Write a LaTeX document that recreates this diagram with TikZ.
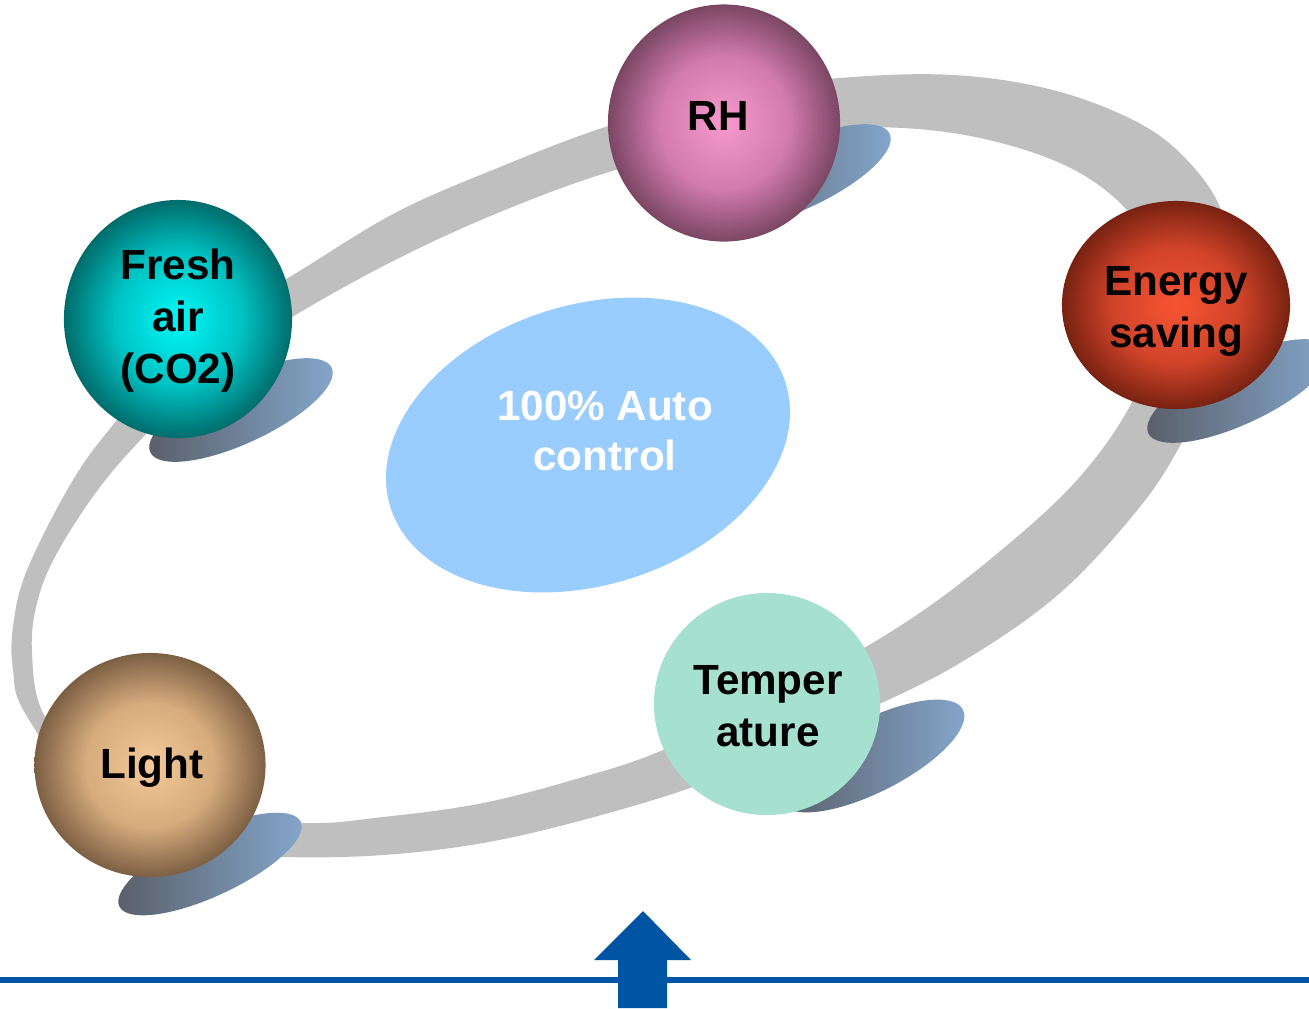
\documentclass[tikz,border=0pt]{standalone}
\usepackage{fontspec}
\setmainfont{Liberation Sans}
\usetikzlibrary{shapes.geometric}
\definecolor{bandgray}{HTML}{BFBFBF}
\definecolor{blobblue}{HTML}{99CCFF}
\definecolor{arrowblue}{HTML}{0054A4}
\definecolor{shdark}{HTML}{595D66}
\definecolor{shmid}{HTML}{7D9BBE}
\definecolor{shblue}{HTML}{85A8CE}
\definecolor{tempgreen}{HTML}{A6E0CE}
\definecolor{rhC}{HTML}{F799CB}\definecolor{rhM}{HTML}{D27BAE}\definecolor{rhE}{HTML}{7A4663}
\definecolor{frC}{HTML}{00F8F8}\definecolor{frM}{HTML}{00C2C2}\definecolor{frE}{HTML}{006C6C}
\definecolor{enC}{HTML}{F85432}\definecolor{enM}{HTML}{D0432A}\definecolor{enE}{HTML}{782211}
\definecolor{liC}{HTML}{F5CA98}\definecolor{liM}{HTML}{D6AB7D}\definecolor{liE}{HTML}{7C5F43}
\pgfdeclareradialshading{rhshade}{\pgfpoint{0bp}{0bp}}{color(0bp)=(rhC); color(14bp)=(rhM); color(25bp)=(rhE); color(50bp)=(rhE)}
\pgfdeclareradialshading{frshade}{\pgfpoint{0bp}{0bp}}{color(0bp)=(frC); color(14bp)=(frM); color(25bp)=(frE); color(50bp)=(frE)}
\pgfdeclareradialshading{enshade}{\pgfpoint{0bp}{0bp}}{color(0bp)=(enC); color(14bp)=(enM); color(25bp)=(enE); color(50bp)=(enE)}
\pgfdeclareradialshading{lishade}{\pgfpoint{0bp}{0bp}}{color(0bp)=(liC); color(14bp)=(liM); color(25bp)=(liE); color(50bp)=(liE)}
\tikzset{
  sphere/.style={ellipse, inner sep=0pt},
  spheretxt/.style={align=center, text=black, inner sep=0pt,
    font=\fontsize{12pt}{14.8pt}\selectfont\bfseries},
  shadowblob/.style={left color=shdark, middle color=shmid, right color=shblue},
  autotxt/.style={align=center, text=white, font=\fontsize{12pt}{14.3pt}\selectfont\bfseries}
}
\begin{document}
\begin{tikzpicture}[x=0.01cm, y=-0.01cm]
\useasboundingbox (0,0) rectangle (1309,1008);
\fill[white] (0,0) rectangle (1309,1008);
% ring band
\fill[bandgray, even odd rule]
  plot[smooth cycle, tension=0.6] coordinates {(117,420) (190,335) (288,278) (395,213) (500,167) (605,127) (720,94) (840,78) (953,75) (1053,90) (1137,122) (1187,160) (1222,212) (1234,285) (1220,365) (1187,433) (1143,503) (1060,593) (960,663) (860,713) (760,757) (693,787) (583,820) (483,843) (383,855) (283,857) (180,850) (90,800) (25,713) (13,670) (13,627) (27,570) (73,480)}
  plot[smooth cycle, tension=0.6] coordinates {(147,433) (100,487) (57,553) (37,603) (32,653) (43,713) (90,770) (170,810) (300,823) (383,817) (483,803) (583,777) (663,750) (780,694) (900,626) (993,557) (1077,480) (1133,400) (1158,320) (1150,250) (1117,200) (1053,160) (953,133) (840,128) (720,145) (609,172) (500,212) (395,260) (292,317) (210,370)};
% shadows
\shade[shadowblob, rotate around={25:(799,176)}] (799,176) ellipse [x radius=1.0cm, y radius=0.33cm];
\shade[shadowblob, rotate around={25:(241,410)}] (241,410) ellipse [x radius=1.0cm, y radius=0.33cm];
\shade[shadowblob, rotate around={25:(1239,391)}] (1239,391) ellipse [x radius=1.0cm, y radius=0.33cm];
\shade[shadowblob, rotate around={25:(210,864)}] (210,864) ellipse [x radius=1.0cm, y radius=0.32cm];
\shade[shadowblob, rotate around={27:(872,756)}] (872,756) ellipse [x radius=1.02cm, y radius=0.36cm];
% center blob
\fill[blobblue, rotate around={17.5:(588,445)}] (588,445) ellipse [x radius=2.07cm, y radius=1.40cm];
\node[autotxt] (auto) at (605,431) {100\% Auto\\control};
% spheres
\node[sphere, shade, shading=rhshade, minimum width=2.32cm, minimum height=2.37cm] (rh) at (724,123) {};
\node[sphere, shade, shading=frshade, minimum width=2.28cm, minimum height=2.38cm] (fresh) at (178,319) {};
\node[sphere, shade, shading=enshade, minimum width=2.28cm, minimum height=2.08cm] (energy) at (1176,305) {};
\node[sphere, shade, shading=lishade, minimum width=2.31cm, minimum height=2.24cm] (light) at (150,765) {};
\node[sphere, fill=tempgreen, minimum width=2.26cm, minimum height=2.22cm] (temp) at (767,704) {};
\node[spheretxt] (rhlbl) at (718,116) {RH};
\node[spheretxt] (freshlbl) at (178,321) {Fresh\\air\\(CO2)};
\node[spheretxt] (energylbl) at (1176,311) {Energy\\saving};
\node[spheretxt] (lightlbl) at (152,768) {Light};
\node[spheretxt] (templbl) at (768,706) {Temper\\ature};
% bottom line and arrow
\coordinate (lineL) at (0,980);
\coordinate (lineR) at (1309,980);
\draw[arrowblue, line width=0.06cm] (lineL) -- (lineR);
\fill[arrowblue] (618,1008) -- (618,960) -- (594,960) -- (643,911) -- (691,960) -- (667,960) -- (667,1008) -- cycle;
\end{tikzpicture}
\end{document}
